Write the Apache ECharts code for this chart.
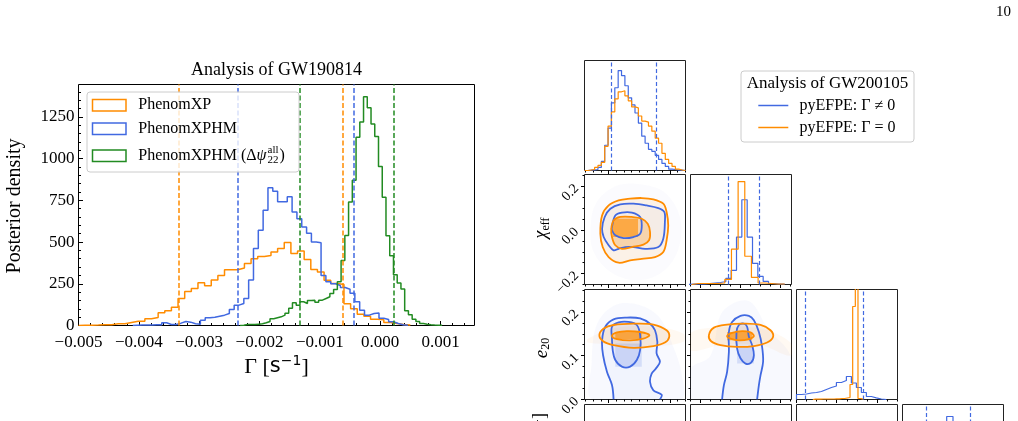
<!DOCTYPE html>
<html>
<head>
<meta charset="utf-8">
<title>Gamma posteriors</title>
<script src="https://cdn.jsdelivr.net/npm/echarts@6/dist/echarts.min.js"></script>
<style>
  html, body { margin: 0; padding: 0; background: #fff; }
  #chart { width: 1018px; height: 421px; }
</style>
</head>
<body>
<div id="chart"></div>
<script>
// ---------- left panel: GW190814, Gamma posteriors (bin start, bin width, bar heights) ----------
const xpStart = -0.005, xpWidth = 0.00011;
const xpCounts = [2, 2, 3, 5, 5, 10, 10, 18, 26, 26, 40, 48, 76, 88, 110, 162, 204, 222, 256, 238,
  272, 300, 334, 334, 345, 372, 400, 413, 420, 440, 461, 497, 431, 447, 395, 335, 320, 271, 251, 245,
  130, 100, 68, 55, 38, 35, 18, 12, 6, 3];
const xphmStart = -0.0041, xphmWidth = 0.00008;
const xphmCounts = [2, 3, 3, 3, 4, 4, 16, 6, 6, 14, 24, 20, 10, 8, 32, 46, 50, 56, 62, 72, 96, 122, 132, 162, 272,
  461, 571, 690, 825, 805, 741, 741, 771, 680, 640, 590, 552, 500, 496, 300, 262, 250, 240, 228, 217,
  193, 142, 92, 62, 72, 75, 44, 36, 22, 12, 5, 2];
const xphmAllStart = -0.002322, xphmAllWidth = 0.000062;
const xphmAllCounts = [2, 6, 6, 6, 8, 10, 16, 24, 40, 46, 52, 62, 74, 104, 136, 122, 142, 132, 150, 152,
  140, 152, 162, 172, 192, 215, 262, 390, 540, 740, 870, 1128, 1220, 1370, 1304, 1208, 1132, 952, 768, 538,
  418, 304, 254, 218, 88, 64, 38, 24, 12, 8, 5, 3, 2, 1];
// 90% bounds (dashed)
const xpBounds = [-0.00334, -0.000613];
const xphmBounds = [-0.002358, -0.000431];
const xphmAllBounds = [-0.001337, 0.000232];
const gammaTicks = [-0.005, -0.004, -0.003, -0.002, -0.001, 0, 0.001];
const densityTicks = [0, 250, 500, 750, 1000, 1250];

// ---------- right panel: GW200105 corner plot ----------
// first parameter (column 1), arbitrary units 0..100
const aStart = 0, aWidth = 100 / 30;
const aBlue = [0, 0.3, 0.7, 1, 3, 9, 25, 42, 67, 82, 99, 94, 84, 72, 65, 57, 47, 34, 27, 21, 19, 15, 11, 7, 4, 1.3, 1, 0.5, 0.3, 0];
const aOrange = [0, 0.5, 1, 3, 5, 8, 24, 44, 58, 71, 78, 79, 74, 69, 63, 62, 54, 49, 48, 44, 39, 32, 27, 17, 11, 7, 4, 1.3, 0.5, 0];
const aBounds = [26.3, 71.5];
const aMajor = [23.9, 84.6];
// chi_eff
const chiBlueStart = -0.26, chiBlueWidth = 0.02667;
const chiBlue = [0.3, 0.5, 0.5, 1, 1.5, 2, 3, 6, 14, 47, 84, 47, 21, 8, 3, 1, 0.5, 0.3];
const chiOrangeStart = -0.245, chiOrangeWidth = 0.0333;
const chiOrange = [1, 1, 1, 1, 1.5, 5, 35, 102, 28, 7, 1.5, 1, 0.5, 0.5];
const chiBounds = [-0.0635, 0.0935];
const chiMajor = [-0.2, 0, 0.2];
const chiMinor = [-0.25, -0.15, -0.1, -0.05, 0.05, 0.1, 0.15, 0.25];
// e_20
const eBlueStart = 0, eBlueWidth = 0.0124;
const eBlue = [5, 5.5, 6.5, 7, 8, 10, 12, 13.5, 17, 19, 23, 16.5, 12, 7, 3, 1.7, 0.5, 0];
const eOrangeStart = 0.0406, eOrangeWidth = 0.0066;
const eOrange = [0.3, 0.3, 0.3, 0.5, 0.5, 0.5, 0.5, 0.5, 0.7, 0.7, 1, 1, 1.5, 2, 15, 93, 200, 1, 0.3];
const eBounds = [0.0215, 0.167];
const eMajor = [0, 0.1, 0.2];
const eMinor = [0.025, 0.05, 0.075, 0.125, 0.15, 0.175, 0.225, 0.25];
// Gamma (column 4), arbitrary units 0..100
const gStart = 0, gWidth = 6.25;
const gBlue = [0, 0, 1, 3, 8, 20, 55, 98, 72, 30, 10, 3, 1, 0.5, 0, 0];
const gBounds = [23.9, 66.9];

// 2D contours (50% / 90%) and sample-cloud outlines
const blueOuterAC = [[17.4, 0.006], [20.0, 0.060], [25.6, 0.098], [35.4, 0.118], [48.5, 0.121], [61.6, 0.113], [73.1, 0.101], [79.0, 0.083], [79.6, 0.037], [78.0, -0.040], [73.1, -0.078], [60.0, -0.086], [48.5, -0.078], [40.3, -0.078], [33.8, -0.086], [28.8, -0.093], [23.9, -0.070], [19.0, -0.032]];
const blueInnerAC = [[27.2, 0.014], [30.5, 0.067], [37.0, 0.080], [46.9, 0.080], [55.1, 0.060], [56.7, 0.021], [55.1, -0.017], [48.5, -0.032], [38.7, -0.037], [30.5, -0.024], [27.2, -0.001]];
const orangeOuterAC = [[15.7, -0.017], [17.4, 0.067], [23.9, 0.113], [33.8, 0.136], [45.2, 0.144], [56.7, 0.147], [68.2, 0.141], [78.0, 0.121], [81.3, 0.083], [82.9, 0.021], [81.3, -0.047], [78.0, -0.101], [69.8, -0.124], [56.7, -0.132], [45.2, -0.139], [33.8, -0.150], [23.9, -0.124], [18.0, -0.078]];
const orangeInnerAC = [[26.5, 0.006], [28.8, 0.044], [35.4, 0.060], [46.9, 0.060], [56.7, 0.052], [62.6, 0.029], [64.9, -0.009], [63.9, -0.047], [58.3, -0.067], [46.9, -0.078], [37.0, -0.086], [30.5, -0.070], [27.2, -0.032]];
const orangeCoreAC = [[28, -0.032], [53, 0.052]];
const cloudAC = [[6, 0.0], [11, 0.12], [30, 0.2], [55, 0.21], [80, 0.17], [95, 0.05], [92, -0.1], [75, -0.2], [50, -0.23], [25, -0.19], [9, -0.1]];

const blueOuterAE = [[28.8, 0], [27.2, 0.033], [22.3, 0.063], [18.4, 0.101], [17.4, 0.135], [20.6, 0.166], [28.8, 0.183], [42.0, 0.187], [55.1, 0.185], [64.9, 0.173], [69.8, 0.158], [72.1, 0.132], [71.4, 0.105], [74.7, 0.086], [70.8, 0.071], [66.5, 0.059], [64.9, 0.040], [68.2, 0.021], [76.4, 0.011], [74.7, 0]];
const blueInnerAE = [[27.2, 0.139], [27.2, 0.166], [33.8, 0.176], [43.6, 0.177], [51.8, 0.170], [55.1, 0.147], [55.1, 0.113], [51.8, 0.090], [45.2, 0.075], [37.0, 0.075], [30.5, 0.090], [27.9, 0.113]];
const orangeOuterAE = [[14.7, 0.147], [19.0, 0.162], [28.8, 0.170], [48.5, 0.173], [68.2, 0.171], [81.3, 0.158], [83.9, 0.143], [79.6, 0.130], [68.2, 0.122], [48.5, 0.118], [28.8, 0.124], [18.4, 0.133]];
const orangeInnerAE = [[27.2, 0.145], [32.1, 0.153], [42.0, 0.156], [55.1, 0.154], [64.2, 0.147], [58.3, 0.139], [45.2, 0.135], [32.1, 0.138]];
const orangeCoreAE = [[30.5, 0.138], [56.7, 0.154]];
const blueCoreAE = [[30.5, 0.075], [56.7, 0.128]];
const blueCloudAE = [[8, 0], [7, 0.08], [12, 0.17], [30, 0.215], [55, 0.215], [75, 0.185], [88, 0.12], [96, 0.06], [95, 0]];
const orangeCloudAE = [[3, 0.138], [30, 0.163], [70, 0.166], [98, 0.15], [98, 0.132], [70, 0.122], [30, 0.126], [3, 0.13]];

const blueOuterCE = [[-0.092, 0], [-0.083, 0.033], [-0.067, 0.063], [-0.058, 0.109], [-0.058, 0.154], [-0.042, 0.177], [0.0, 0.191], [0.042, 0.191], [0.067, 0.181], [0.092, 0.154], [0.108, 0.120], [0.113, 0.086], [0.100, 0.055], [0.092, 0.033], [0.083, 0]];
const blueInnerCE = [[-0.017, 0.116], [-0.020, 0.154], [-0.008, 0.170], [0.017, 0.173], [0.033, 0.166], [0.042, 0.143], [0.058, 0.124], [0.067, 0.101], [0.053, 0.084], [0.025, 0.082], [0.0, 0.094]];
const orangeOuterCE = [[-0.158, 0.147], [-0.133, 0.164], [-0.067, 0.171], [0.017, 0.173], [0.100, 0.170], [0.150, 0.158], [0.163, 0.143], [0.133, 0.130], [0.067, 0.122], [-0.017, 0.120], [-0.100, 0.124], [-0.147, 0.133]];
const orangeInnerCE = [[-0.067, 0.145], [-0.042, 0.152], [0.008, 0.156], [0.050, 0.153], [0.067, 0.145], [0.042, 0.138], [-0.008, 0.135], [-0.050, 0.139]];
const orangeCoreCE = [[-0.067, 0.135], [0.058, 0.154]];
const blueCoreCE = [[-0.017, 0.082], [0.067, 0.120]];
const blueCloudCE = [[-0.25, 0], [-0.25, 0.07], [-0.15, 0.1], [-0.09, 0.2], [0.04, 0.225], [0.14, 0.16], [0.25, 0.1], [0.25, 0]];
const orangeCloudCE = [[-0.25, 0.152], [-0.1, 0.165], [0.1, 0.162], [0.25, 0.13], [0.25, 0.1], [0.1, 0.124], [-0.1, 0.124], [-0.25, 0.112]];

// ---------- styling ----------
const ORANGE = '#ff8c00', BLUE = '#4169e1', GREEN = '#228b22';
const SERIF = '"Liberation Serif", "Times New Roman", serif';
const SANS = '"DejaVu Sans", sans-serif';
const minus = function (s) { return s.replace('-', '\u2212'); };

const chart = echarts.init(document.getElementById('chart'));

const grids = [], xAxes = [], yAxes = [], series = [];

function addGrid(left, top, width, height, border) {
  grids.push({ left: left, top: top, width: width, height: height, show: true, borderColor: border, borderWidth: 1,
    backgroundColor: 'transparent', containLabel: false, outerBoundsMode: 'none' });
  return grids.length - 1;
}

// one axis for major ticks (+labels), one for minor ticks
function addAxis(list, dim, grid, min, max, t) {
  const common = { type: 'value', gridIndex: grid, position: dim === 'x' ? 'bottom' : 'left', min: min, max: max,
    splitLine: { show: false }, axisLine: { show: false, onZero: false } };
  const idx = list.length;
  const main = Object.assign({}, common, {
    axisTick: { show: !!t.major, inside: !!t.inside, length: t.len || 4, customValues: t.major || [],
      lineStyle: { color: '#000', width: 1 } },
    axisLabel: { show: false }
  });
  if (t.fmt) {
    main.axisLabel = { show: true, customValues: t.major, formatter: t.fmt, color: '#000', fontFamily: SERIF,
      fontSize: t.font || 17, margin: t.margin || 6, rotate: t.rotate || 0 };
  }
  list.push(main);
  if (t.minor) {
    list.push(Object.assign({}, common, {
      axisTick: { show: true, inside: !!t.inside, length: t.minLen || 2, customValues: t.minor,
        lineStyle: { color: '#000', width: 1 } },
      axisLabel: { show: false }
    }));
  }
  return idx;
}

function stepPoints(start, width, counts) {
  const pts = [[start, 0]];
  counts.forEach(function (c, i) { pts.push([start + i * width, c]); });
  pts.push([start + counts.length * width, 0]);
  return pts;
}

function histSeries(xi, yi, start, width, counts, color, lw, bounds, dash) {
  const s = { type: 'line', xAxisIndex: xi, yAxisIndex: yi, data: stepPoints(start, width, counts), step: 'end',
    symbol: 'none', showSymbol: false, silent: true, z: 3, lineStyle: { color: color, width: lw }, itemStyle: { color: color } };
  if (bounds) {
    s.markLine = { symbol: 'none', silent: true, animation: false, precision: 8, label: { show: false },
      lineStyle: { color: color, width: lw, type: dash },
      data: bounds.map(function (v) { return { xAxis: v }; }) };
  }
  return s;
}

function rectPts(r) {
  return [[r[0][0], r[0][1]], [r[1][0], r[0][1]], [r[1][0], r[1][1]], [r[0][0], r[1][1]]];
}

function contourSeries(xi, yi, layers) {
  return { type: 'custom', coordinateSystem: 'cartesian2d', xAxisIndex: xi, yAxisIndex: yi, data: [[0, 0]],
    clip: true, silent: true, z: 2,
    renderItem: function (params, api) {
      return { type: 'group', children: layers.map(function (ly) {
        const pts = ly.pts.map(function (p) { return api.coord(p); });
        return { type: ly.open ? 'polyline' : 'polygon',
          shape: { points: pts, smooth: ly.smooth == null ? 0.35 : ly.smooth },
          style: { fill: ly.fill || 'none', stroke: ly.stroke || 'none', lineWidth: ly.stroke ? 1.8 : 0 } };
      }) };
    } };
}

// ---------- left panel ----------
const gMinor = [], dMinor = [];
for (let k = 0; k <= 32; k++) gMinor.push(+(-0.005 + 0.0002 * k).toFixed(4));
for (let k = 0; k <= 28; k++) dMinor.push(50 * k);

const g0 = addGrid(78.5, 84.5, 396, 241, '#000');
const lx = addAxis(xAxes, 'x', g0, -0.005, 0.001563, { major: gammaTicks, minor: gMinor, inside: true, len: 4.5, minLen: 2.5,
  fmt: function (v) { return minus(v.toFixed(3)); }, font: 17, margin: 9 });
const ly = addAxis(yAxes, 'y', g0, 0, 1444, { major: densityTicks, minor: dMinor, inside: true, len: 4.5, minLen: 2.5,
  fmt: function (v) { return String(v); }, font: 17, margin: 4 });
series.push(histSeries(lx, ly, xpStart, xpWidth, xpCounts, ORANGE, 1.5, xpBounds, [5, 2.5]));
series.push(histSeries(lx, ly, xphmStart, xphmWidth, xphmCounts, BLUE, 1.5, xphmBounds, [5, 2.5]));
series.push(histSeries(lx, ly, xphmAllStart, xphmAllWidth, xphmAllCounts, GREEN, 1.5, xphmAllBounds, [5, 2.5]));

// ---------- corner plot ----------
const colL = [584.5, 690.5, 796.5, 902.5], rowT = [60.5, 174.5, 289.5, 404.5], CW = 101, CH = 110;
const FRAME = '#222';
const aStep = (aMajor[1] - aMajor[0]) / 8, aMinor = [];
for (let v = aMajor[0] - 3 * aStep; v < 100; v += aStep) aMinor.push(+v.toFixed(3));
const chiRange = [-0.25, 0.255], eRange = [0, 0.251];
const out = { inside: false, len: 3.5, minLen: 2 };
const aTicks = Object.assign({ major: aMajor, minor: aMinor }, out);
const chiTicks = Object.assign({ major: chiMajor, minor: chiMinor }, out);
const eTicks = Object.assign({ major: eMajor, minor: eMinor }, out);
const cornerFmt = function (v) { return minus(v.toFixed(1)); };
const noTicks = {};

// row 1: histogram of the first parameter
let gi = addGrid(colL[0], rowT[0], CW, CH, FRAME);
let xi = addAxis(xAxes, 'x', gi, 0, 100, aTicks), yi = addAxis(yAxes, 'y', gi, 0, 109, noTicks);
series.push(histSeries(xi, yi, aStart, aWidth, aBlue, BLUE, 1.2, aBounds, [4, 2.5]));
series.push(histSeries(xi, yi, aStart, aWidth, aOrange, ORANGE, 1.2, null));

const OF1 = 'rgba(255,140,0,0.09)', OF2 = 'rgba(255,140,0,0.25)', OF3 = 'rgba(255,140,0,0.6)';
const BF1 = 'rgba(65,105,225,0.035)', BF2 = 'rgba(65,105,225,0.07)', BF3 = 'rgba(65,105,225,0.16)';
const BC = 'rgba(65,105,225,0.04)', OC = 'rgba(255,140,0,0.05)', MC = 'rgba(65,105,225,0.025)';

// row 2, col 1: chi_eff vs first parameter
gi = addGrid(colL[0], rowT[1], CW, CH, FRAME);
xi = addAxis(xAxes, 'x', gi, 0, 100, aTicks);
yi = addAxis(yAxes, 'y', gi, chiRange[0], chiRange[1], Object.assign({ fmt: cornerFmt, rotate: 45, font: 14, margin: 8 }, chiTicks));
series.push(contourSeries(xi, yi, [
  { pts: cloudAC, fill: MC },
  { pts: blueOuterAC, fill: BF1 }, { pts: orangeOuterAC, fill: OF1 }, { pts: orangeInnerAC, fill: OF2 },
  { pts: rectPts(orangeCoreAC), fill: OF3, smooth: 0 },
  { pts: blueOuterAC, stroke: BLUE }, { pts: blueInnerAC, stroke: BLUE },
  { pts: orangeOuterAC, stroke: ORANGE }, { pts: orangeInnerAC, stroke: ORANGE }
]));

// row 2, col 2: chi_eff histogram
gi = addGrid(colL[1], rowT[1], CW, CH, FRAME);
xi = addAxis(xAxes, 'x', gi, chiRange[0], chiRange[1], chiTicks);
yi = addAxis(yAxes, 'y', gi, 0, 109, noTicks);
series.push(histSeries(xi, yi, chiBlueStart, chiBlueWidth, chiBlue, BLUE, 1.2, chiBounds, [4, 2.5]));
series.push(histSeries(xi, yi, chiOrangeStart, chiOrangeWidth, chiOrange, ORANGE, 1.2, null));

// row 3, col 1: e20 vs first parameter
gi = addGrid(colL[0], rowT[2], CW, CH, FRAME);
xi = addAxis(xAxes, 'x', gi, 0, 100, aTicks);
yi = addAxis(yAxes, 'y', gi, eRange[0], eRange[1], Object.assign({ fmt: cornerFmt, rotate: 45, font: 14, margin: 8 }, eTicks));
series.push(contourSeries(xi, yi, [
  { pts: blueCloudAE, fill: BC }, { pts: orangeCloudAE, fill: OC },
  { pts: blueOuterAE, fill: BF1 }, { pts: blueInnerAE, fill: BF2 }, { pts: rectPts(blueCoreAE), fill: BF3, smooth: 0 },
  { pts: orangeOuterAE, fill: OF1 }, { pts: orangeInnerAE, fill: OF2 }, { pts: rectPts(orangeCoreAE), fill: OF3, smooth: 0 },
  { pts: blueOuterAE, stroke: BLUE, open: true }, { pts: blueInnerAE, stroke: BLUE },
  { pts: orangeOuterAE, stroke: ORANGE }, { pts: orangeInnerAE, stroke: ORANGE }
]));

// row 3, col 2: e20 vs chi_eff
gi = addGrid(colL[1], rowT[2], CW, CH, FRAME);
xi = addAxis(xAxes, 'x', gi, chiRange[0], chiRange[1], chiTicks);
yi = addAxis(yAxes, 'y', gi, eRange[0], eRange[1], eTicks);
series.push(contourSeries(xi, yi, [
  { pts: blueCloudCE, fill: BC }, { pts: orangeCloudCE, fill: OC },
  { pts: blueOuterCE, fill: BF1 }, { pts: blueInnerCE, fill: BF2 }, { pts: rectPts(blueCoreCE), fill: BF3, smooth: 0 },
  { pts: orangeOuterCE, fill: OF1 }, { pts: orangeInnerCE, fill: OF2 }, { pts: rectPts(orangeCoreCE), fill: OF3, smooth: 0 },
  { pts: blueOuterCE, stroke: BLUE, open: true }, { pts: blueInnerCE, stroke: BLUE },
  { pts: orangeOuterCE, stroke: ORANGE }, { pts: orangeInnerCE, stroke: ORANGE }
]));

// row 3, col 3: e20 histogram
gi = addGrid(colL[2], rowT[2], CW, CH, FRAME);
xi = addAxis(xAxes, 'x', gi, eRange[0], eRange[1], eTicks);
yi = addAxis(yAxes, 'y', gi, 0, 110, noTicks);
series.push(histSeries(xi, yi, eBlueStart, eBlueWidth, eBlue, BLUE, 1.2, eBounds, [4, 2.5]));
series.push(histSeries(xi, yi, eOrangeStart, eOrangeWidth, eOrange, ORANGE, 1.2, null));

// row 4 (cut off by the page): empty 2D panels and the Gamma histogram
for (let c = 0; c < 3; c++) {
  gi = addGrid(colL[c], rowT[3], CW, CH, FRAME);
  addAxis(xAxes, 'x', gi, 0, 100, noTicks);
  addAxis(yAxes, 'y', gi, 0, 100, noTicks);
}
gi = addGrid(colL[3], rowT[3], CW, CH, FRAME);
xi = addAxis(xAxes, 'x', gi, 0, 100, noTicks);
yi = addAxis(yAxes, 'y', gi, 0, 110, noTicks);
series.push(histSeries(xi, yi, gStart, gWidth, gBlue, BLUE, 1.2, gBounds, [4, 2.5]));

// ---------- texts and legends ----------
const ctx = document.createElement('canvas').getContext('2d');
function textW(str, size, style) { ctx.font = (style || '') + ' ' + size + 'px ' + SERIF; return ctx.measureText(str).width; }

function txt(x, y, text, size, extra) {
  const e = { type: 'text', x: x, y: y, z: 100, silent: true,
    style: Object.assign({ text: text, fill: '#000', font: size + 'px ' + SERIF, align: 'left', verticalAlign: 'middle',
      textAlign: 'left', textVerticalAlign: 'middle' }, (extra && extra.style) || {}) };
  if (extra && extra.rotation) e.rotation = extra.rotation;
  return e;
}
function centered(style) { return Object.assign({ align: 'center', textAlign: 'center' }, style || {}); }

const elements = [];
// page number
elements.push(txt(1011, 12, '10', 15, { style: { align: 'right', textAlign: 'right' } }));
// left title & axis names
elements.push(txt(276.5, 70.5, 'Analysis of GW190814', 18, { style: centered() }));
elements.push(txt(15, 206, 'Posterior density', 20, { rotation: Math.PI / 2, style: centered() }));
elements.push(txt(276.5, 367, '{g|\u0393 [}{s|s}{p|\u22121}{g|]}', 22, { style: centered({
  rich: { g: { fontFamily: SERIF, fontSize: 22 }, s: { fontFamily: SANS, fontSize: 21 },
    p: { fontFamily: SANS, fontSize: 14, padding: [0, 0, 11, 0] } } }) }));

// left legend
elements.push({ type: 'rect', z: 99, silent: true, shape: { x: 87, y: 92, width: 212, height: 80, r: 3 },
  style: { fill: 'rgba(255,255,255,0.8)', stroke: '#cccccc', lineWidth: 1 } });
const legRows = [
  { y: 105, color: ORANGE, label: 'PhenomXP' },
  { y: 128.5, color: BLUE, label: 'PhenomXPHM' },
  { y: 155.5, color: GREEN, label: null }
];
legRows.forEach(function (r) {
  elements.push({ type: 'rect', z: 100, silent: true, shape: { x: 92.5, y: r.y - 5.5, width: 33.5, height: 11.5 },
    style: { fill: 'none', stroke: r.color, lineWidth: 1.5 } });
  if (r.label) elements.push(txt(138.3, r.y, r.label, 16));
});
(function () {
  const x0 = 138.3, y = 155.5;
  const w1 = textW('PhenomXPHM (\u0394', 16), w2 = textW('\u03c8', 16, 'italic');
  elements.push(txt(x0, y, 'PhenomXPHM (\u0394', 16));
  elements.push(txt(x0 + w1, y, '\u03c8', 16, { style: { font: 'italic 16px ' + SERIF } }));
  const xs = x0 + w1 + w2 + 1;
  elements.push(txt(xs, y - 5, 'all', 11));
  elements.push(txt(xs, y + 5, '22', 11));
  const w3 = Math.max(textW('all', 11), textW('22', 11));
  elements.push(txt(xs + w3 + 1, y, ')', 16));
})();

// right legend
elements.push({ type: 'rect', z: 99, silent: true, shape: { x: 741, y: 71, width: 173, height: 71, r: 3 },
  style: { fill: 'rgba(255,255,255,0.8)', stroke: '#cccccc', lineWidth: 1 } });
elements.push(txt(827.5, 84, 'Analysis of GW200105', 17, { style: centered() }));
[[105.5, BLUE, 'pyEFPE: \u0393 \u2260 0'], [127.5, ORANGE, 'pyEFPE: \u0393 = 0']].forEach(function (r) {
  elements.push({ type: 'line', z: 100, silent: true, shape: { x1: 758.3, y1: r[0], x2: 788.3, y2: r[0] },
    style: { stroke: r[1], lineWidth: 1.5 } });
  elements.push(txt(799.5, r[0], r[2], 16));
});

// corner axis names
elements.push(txt(541.5, 228, '{m|\u03c7}{s|eff}', 18, { rotation: Math.PI / 2, style: centered({
  rich: { m: { fontFamily: SERIF, fontStyle: 'italic', fontSize: 18 }, s: { fontFamily: SERIF, fontSize: 12, padding: [8, 0, 0, 0] } } }) }));
elements.push(txt(541.5, 348, '{m|e}{s|20}', 18, { rotation: Math.PI / 2, style: centered({
  rich: { m: { fontFamily: SERIF, fontStyle: 'italic', fontSize: 19 }, s: { fontFamily: SERIF, fontSize: 12, padding: [8, 0, 0, 0] } } }) }));
elements.push(txt(540, 413, '{g|\u0393 [}{s|s}{p|\u22121}{g|]}', 18, { rotation: Math.PI / 2, style: {
  align: 'right', textAlign: 'right',
  rich: { g: { fontFamily: SERIF, fontSize: 18 }, s: { fontFamily: SANS, fontSize: 17 },
    p: { fontFamily: SANS, fontSize: 11, padding: [0, 0, 9, 0] } } } }));

chart.setOption({
  animation: false,
  backgroundColor: '#fff',
  grid: grids,
  xAxis: xAxes,
  yAxis: yAxes,
  series: series,
  graphic: { elements: elements }
});
</script>
</body>
</html>
